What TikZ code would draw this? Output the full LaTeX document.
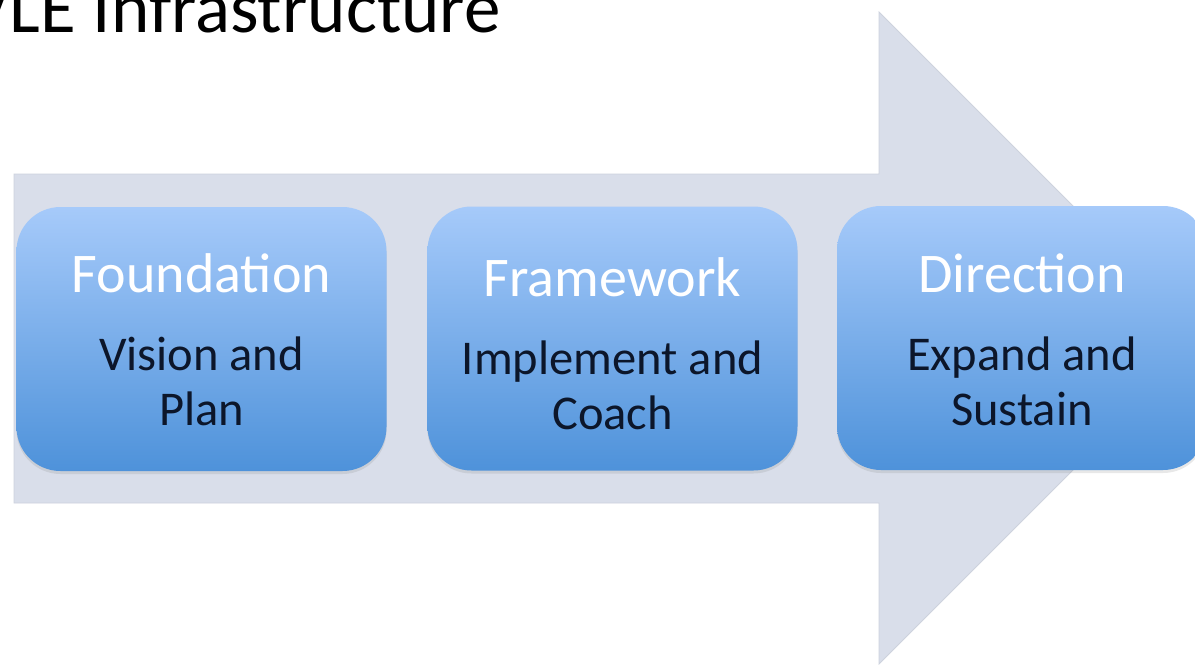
\documentclass[tikz,border=0pt]{standalone}
\usepackage{fontspec}
\setmainfont{Carlito}
\usetikzlibrary{shadows}
\definecolor{arrowfill}{RGB}{217,222,234}
\definecolor{arrowedge}{RGB}{205,210,221}
\definecolor{boxtop}{RGB}{166,202,250}
\definecolor{boxbot}{RGB}{78,146,218}
\definecolor{bodytext}{RGB}{12,22,42}
\tikzset{
  stagebox/.style={rounded corners=44pt, minimum width=370pt, minimum height=264pt,
    inner sep=0pt, top color=boxtop, bottom color=boxbot, draw=none,
    drop shadow={opacity=0.18, shadow xshift=0pt, shadow yshift=-3pt}},
  headtext/.style={anchor=base, text=white, font=\fontsize{56}{66}\selectfont, inner sep=0pt},
  bodytxt/.style={anchor=base, text=bodytext, align=center, font=\fontsize{48.5}{55}\selectfont, inner sep=0pt},
  titletext/.style={anchor=base east, text=black, font=\fontsize{73}{86}\selectfont, inner sep=0pt}
}
\begin{document}
\begin{tikzpicture}[x=1pt,y=-1pt]
\useasboundingbox (0,0) rectangle (1195,665);
\clip (0,0) rectangle (1195,665);
\fill[white] (0,0) rectangle (1195,665);
% big arrow
\path[fill=arrowfill, draw=arrowedge, line width=0.8pt]
  (14,174) -- (879,174) -- (879,12) -- (1205,338) -- (879,664) -- (879,503) -- (14,503) -- cycle;
% title
\node[titletext] (title) at (501,32) {VLE Infrastructure};
% boxes
\node[stagebox] (b1) at (201.5,339) {};
\node[stagebox] (b2) at (612.5,338.5) {};
\node[stagebox] (b3) at (1022,338) {};
% texts
\node[headtext] (h1) at (201.5,292) {Foundation};
\node[bodytxt] (d1) at (201.5,425) {Vision and\\Plan};
\node[headtext] (h2) at (612.5,296) {Framework};
\node[bodytxt] (d2) at (612.5,429) {Implement and\\Coach};
\node[headtext] (h3) at (1022,292) {Direction};
\node[bodytxt] (d3) at (1022,425) {Expand and\\Sustain};
\end{tikzpicture}
\end{document}
